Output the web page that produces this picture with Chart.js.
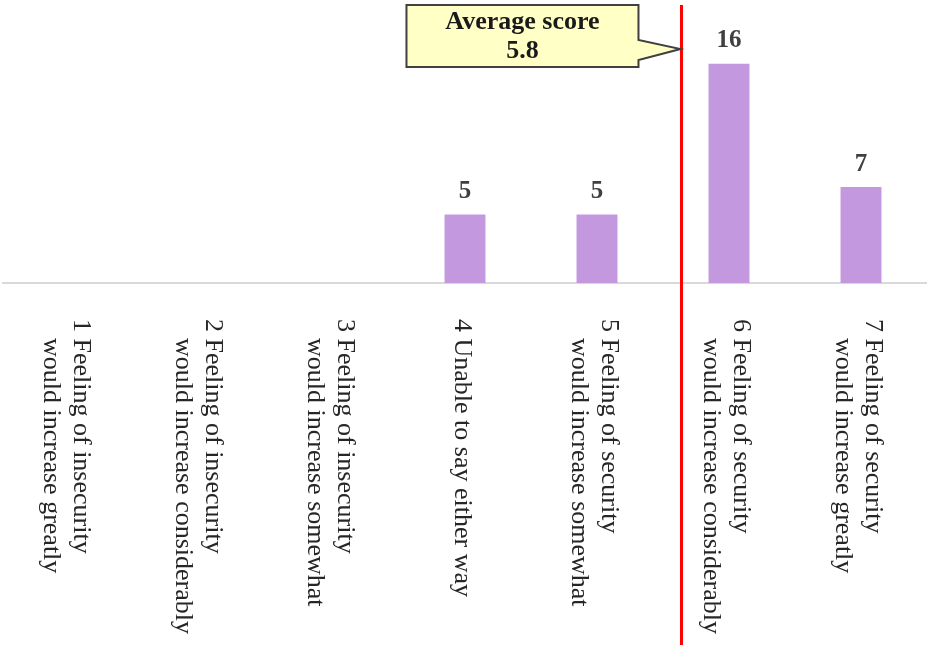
<!DOCTYPE html>
<html>
<head>
<meta charset="utf-8">
<script src="https://cdn.jsdelivr.net/npm/chart.js@4.4.0/dist/chart.umd.min.js"></script>
<style>
  html, body { margin: 0; padding: 0; background: #fff; }
  #wrap { width: 927px; height: 648px; }
</style>
</head>
<body>
<div id="wrap"><canvas id="scoreChart" width="927" height="648"></canvas></div>
<script>
// Categories (each is split into the lines shown under the axis)
const categories = [
  ["1 Feeling of insecurity", "would increase greatly"],
  ["2 Feeling of insecurity", "would increase considerably"],
  ["3 Feeling of insecurity", "would increase somewhat"],
  ["4 Unable to say either way"],
  ["5 Feeling of security", "would increase somewhat"],
  ["6 Feeling of security", "would increase considerably"],
  ["7 Feeling of security", "would increase greatly"]
];

// Number of answers per category
const answers = [0, 0, 0, 5, 5, 16, 7];

// Average score and where its marker sits on the category axis
const averageLabel = ["Average score", "5.8"];
const averageAxisPos = 4.64;

const serif = '"Liberation Serif", "Times New Roman", serif';

// value labels above bars
const barValues = {
  id: "barValues",
  afterDatasetsDraw(chart) {
    const ctx = chart.ctx;
    const meta = chart.getDatasetMeta(0);
    ctx.save();
    ctx.font = "bold 25px " + serif;
    ctx.fillStyle = "#404040";
    ctx.textAlign = "center";
    ctx.textBaseline = "middle";
    meta.data.forEach((bar, i) => {
      if (answers[i] > 0) ctx.fillText(String(answers[i]), bar.x, bar.y - 23);
    });
    ctx.restore();
  }
};

// rotated category labels, reading top to bottom
const categoryLabels = {
  id: "categoryLabels",
  afterDraw(chart) {
    const ctx = chart.ctx;
    const xs = chart.scales.x;
    const top = chart.chartArea.bottom + 36;
    ctx.save();
    ctx.font = "26px " + serif;
    ctx.fillStyle = "#262626";
    ctx.textAlign = "left";
    ctx.textBaseline = "middle";
    categories.forEach((lines, i) => {
      const x = xs.getPixelForValue(i);
      ctx.save();
      ctx.translate(x - 3, top);
      ctx.rotate(Math.PI / 2);
      lines.forEach((line, k) => {
        const v = (k - (lines.length - 1) / 2) * 30;
        ctx.fillText(line, k === 0 ? 0 : 19, v);
      });
      ctx.restore();
    });
    ctx.restore();
  }
};

// red average line and callout
const averageMarker = {
  id: "averageMarker",
  afterDraw(chart) {
    const ctx = chart.ctx;
    const x = chart.scales.x.getPixelForValue(averageAxisPos);
    ctx.save();
    ctx.strokeStyle = "#FF0000";
    ctx.lineWidth = 3;
    ctx.beginPath();
    ctx.moveTo(x, 5);
    ctx.lineTo(x, 645);
    ctx.stroke();

    const right = x - 43, left = right - 232, top = 5, bottom = 67;
    ctx.beginPath();
    ctx.moveTo(left, top);
    ctx.lineTo(right, top);
    ctx.lineTo(right, 40);
    ctx.lineTo(x - 1, 49);
    ctx.lineTo(right, 60);
    ctx.lineTo(right, bottom);
    ctx.lineTo(left, bottom);
    ctx.closePath();
    ctx.fillStyle = "#FFFFC6";
    ctx.fill();
    ctx.strokeStyle = "#404040";
    ctx.lineWidth = 2;
    ctx.stroke();

    ctx.font = "bold 26px " + serif;
    ctx.fillStyle = "#1a1a1a";
    ctx.textAlign = "center";
    ctx.textBaseline = "middle";
    const cx = (left + right) / 2;
    ctx.fillText(averageLabel[0], cx, 22);
    ctx.fillText(averageLabel[1], cx, 51);
    ctx.restore();
  }
};

new Chart(document.getElementById("scoreChart"), {
  type: "bar",
  data: {
    labels: categories,
    datasets: [{
      data: answers,
      backgroundColor: "#C398DF",
      borderWidth: 0,
      barPercentage: 0.31,
      categoryPercentage: 1
    }]
  },
  options: {
    responsive: false,
    animation: false,
    layout: { padding: { top: 9, bottom: 365, left: 3, right: 0 } },
    plugins: { legend: { display: false }, tooltip: { enabled: false } },
    scales: {
      x: {
        grid: { display: false, drawTicks: false },
        ticks: { display: false },
        border: { display: true, color: "#D9D9D9", width: 2 }
      },
      y: { display: false, min: 0, max: 20 }
    }
  },
  plugins: [barValues, categoryLabels, averageMarker]
});
</script>
</body>
</html>
